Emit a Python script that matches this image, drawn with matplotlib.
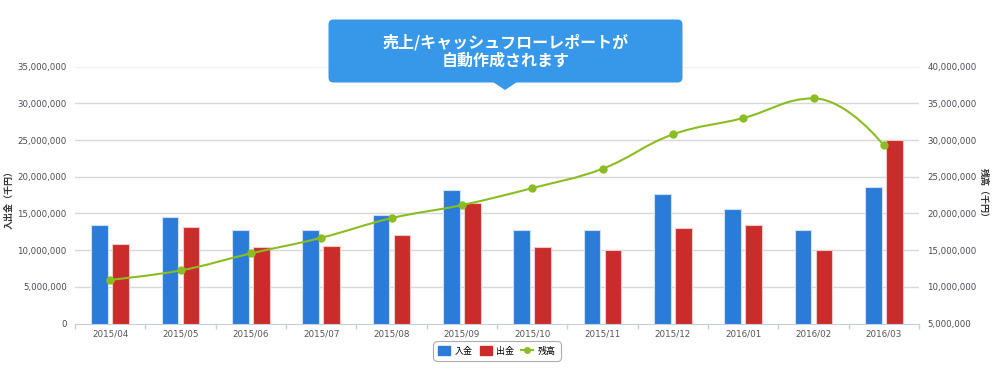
import numpy as np
import matplotlib
matplotlib.use("Agg")
import matplotlib.pyplot as plt
from matplotlib.path import Path
from matplotlib.patches import PathPatch, Patch, FancyBboxPatch, Polygon
from matplotlib.lines import Line2D
from matplotlib.ticker import FuncFormatter, MultipleLocator

plt.rcParams['font.family'] = ['DejaVu Sans', 'Noto Sans CJK JP']

# data
months = ["2015/04", "2015/05", "2015/06", "2015/07", "2015/08", "2015/09",
          "2015/10", "2015/11", "2015/12", "2016/01", "2016/02", "2016/03"]
inflow = [13.45e6, 14.45e6, 12.68e6, 12.68e6, 14.73e6, 18.23e6,
          12.68e6, 12.68e6, 17.64e6, 15.59e6, 12.68e6, 18.59e6]
outflow = [10.77e6, 13.18e6, 10.45e6, 10.59e6, 12.05e6, 16.36e6,
           10.36e6, 10.0e6, 13.05e6, 13.36e6, 10.0e6, 25.0e6]
balance = [10.95e6, 12.23e6, 14.55e6, 16.68e6, 19.36e6, 21.14e6,
           23.45e6, 26.09e6, 30.77e6, 33.0e6, 35.68e6, 29.27e6]

BLUE = "#2b7bd9"
RED = "#c92c2a"
GREEN = "#8bbc21"
W, H = 1005, 371

fig = plt.figure(figsize=(W / 100, H / 100), dpi=100)
ax = fig.add_axes([75 / W, (H - 323.5) / H, (919 - 75) / W, (323.5 - 66.7) / H])
ax2 = ax.twinx()

x = np.arange(len(months))
ax.bar(x - 0.15, inflow, width=0.235, color=BLUE, edgecolor="#cfe0f5", linewidth=0.8, zorder=3)
ax.bar(x + 0.15, outflow, width=0.235, color=RED, edgecolor="#f0c8c8", linewidth=0.8, zorder=3)

ax.set_xlim(-0.5, len(months) - 0.5)
ax.set_ylim(0, 35e6)
ax2.set_ylim(5e6, 40e6)

fmt = FuncFormatter(lambda v, p: f"{int(v):,}")
for a in (ax, ax2):
    a.yaxis.set_major_locator(MultipleLocator(5e6))
    a.yaxis.set_major_formatter(fmt)
    a.tick_params(axis="y", length=0, labelsize=6.2, labelcolor="#4a4a58", pad=6)
    for s in a.spines.values():
        s.set_visible(False)
ax.spines["bottom"].set_visible(True)
ax.spines["bottom"].set_color("#c0d0e0")

# grid lines
for v in np.arange(5e6, 35e6 + 1, 5e6):
    ax.axhline(v, color="#f2f2f2" if v >= 35e6 else "#d8d8d8", lw=1, zorder=1)
ax.get_yticklabels()[-1].set_color("#c8ccd6")
ax2.get_yticklabels()[-1].set_color("#c8ccd6")

ax.set_xticks(x)
ax.set_xticklabels(months)
ax.tick_params(axis="x", length=0, labelsize=6.3, labelcolor="#555555", pad=4)
ax.set_xticks(np.arange(-0.5, len(months) + 0.5, 1), minor=True)
ax.tick_params(axis="x", which="minor", length=3.5, color="#c0d0e0", width=1)

ax.set_ylabel("入出金（千円）", fontsize=6.5, fontweight="bold", color="#333333",
              family=['Noto Sans CJK JP', 'DejaVu Sans'])
ax.yaxis.set_label_coords(-0.073, 0.49)
ax2.set_ylabel("残高（千円）", fontsize=6.5, fontweight="bold", color="#333333", rotation=270,
               family=['Noto Sans CJK JP', 'DejaVu Sans'])
ax2.yaxis.set_label_coords(1.0815, 0.5)

# spline for balance (Highcharts style), built in display space
pts = ax2.transData.transform(np.column_stack([x, balance]))
sm = 1.5
n = len(pts)
lc = pts.copy()
rc = pts.copy()
for i in range(1, n - 1):
    px, py = pts[i]
    lx, ly = pts[i - 1]
    nx, ny = pts[i + 1]
    lcx, lcy = (sm * px + lx) / (sm + 1), (sm * py + ly) / (sm + 1)
    rcx, rcy = (sm * px + nx) / (sm + 1), (sm * py + ny) / (sm + 1)
    dl = np.hypot(lcx - px, lcy - py)
    dr = np.hypot(rcx - px, rcy - py)
    la = np.arctan2(lcx - px, lcy - py)
    ra = np.arctan2(rcx - px, rcy - py)
    corr = np.pi / 2 + (la + ra) / 2
    if abs(la - corr) > np.pi / 2:
        corr -= np.pi
    lcx, lcy = px + np.sin(corr) * dl, py + np.cos(corr) * dl
    rcx, rcy = px + np.sin(np.pi + corr) * dr, py + np.cos(np.pi + corr) * dr
    # keep control points between neighbours (no false extremes)
    if lcy > ly and lcy > py:
        lcy = max(ly, py)
        rcy = 2 * py - lcy
    elif lcy < ly and lcy < py:
        lcy = min(ly, py)
        rcy = 2 * py - lcy
    if rcy > ny and rcy > py:
        rcy = max(ny, py)
        lcy = 2 * py - rcy
    elif rcy < ny and rcy < py:
        rcy = min(ny, py)
        lcy = 2 * py - rcy
    lc[i] = [lcx, lcy]
    rc[i] = [rcx, rcy]
verts = [pts[0]]
codes = [Path.MOVETO]
for i in range(1, n):
    verts += [rc[i - 1], lc[i], pts[i]]
    codes += [Path.CURVE4] * 3
verts = ax2.transData.inverted().transform(np.array(verts))
ax2.add_patch(PathPatch(Path(verts, codes), fill=False, edgecolor=GREEN, lw=1.5, zorder=4))
ax2.plot(x, balance, linestyle="none", marker="o", ms=5, color=GREEN, zorder=5)

# legend
handles = [Patch(facecolor=BLUE, edgecolor=BLUE), Patch(facecolor=RED, edgecolor=RED),
           Line2D([], [], color=GREEN, lw=1.5, marker="o", ms=4)]
leg = ax.legend(handles, ["入金", "出金", "残高"], loc="center", bbox_to_anchor=(0.5, -0.107),
                ncol=3, frameon=True, handlelength=1.3, handleheight=1.1,
                handletextpad=0.5, columnspacing=0.8, borderpad=0.4,
                prop={'family': ['Noto Sans CJK JP', 'DejaVu Sans'], 'size': 6.5})
leg.get_frame().set_edgecolor("#999999")
leg.get_frame().set_linewidth(0.8)
leg.get_frame().set_boxstyle("round,pad=0.2,rounding_size=0.5")

# callout banner
ov = fig.add_axes([0, 0, 1, 1], facecolor="none")
ov.set_xlim(0, W)
ov.set_ylim(H, 0)
ov.axis("off")
ov.add_patch(FancyBboxPatch((332, 23), 347, 56, boxstyle="round,pad=3.5,rounding_size=5",
                            facecolor="#3797e9", edgecolor="none"))
ov.add_patch(Polygon([[493, 82], [517, 82], [505, 90]], closed=True,
                     facecolor="#3797e9", edgecolor="none"))
ov.text(505.5, 42, "売上/キャッシュフローレポートが", color="white", fontsize=11.5,
        fontweight="bold", ha="center", va="center", family=['Noto Sans CJK JP', 'DejaVu Sans'])
ov.text(505.5, 61, "自動作成されます", color="white", fontsize=11.5,
        fontweight="bold", ha="center", va="center", family=['Noto Sans CJK JP', 'DejaVu Sans'])

fig.savefig("out.png", dpi=100)
